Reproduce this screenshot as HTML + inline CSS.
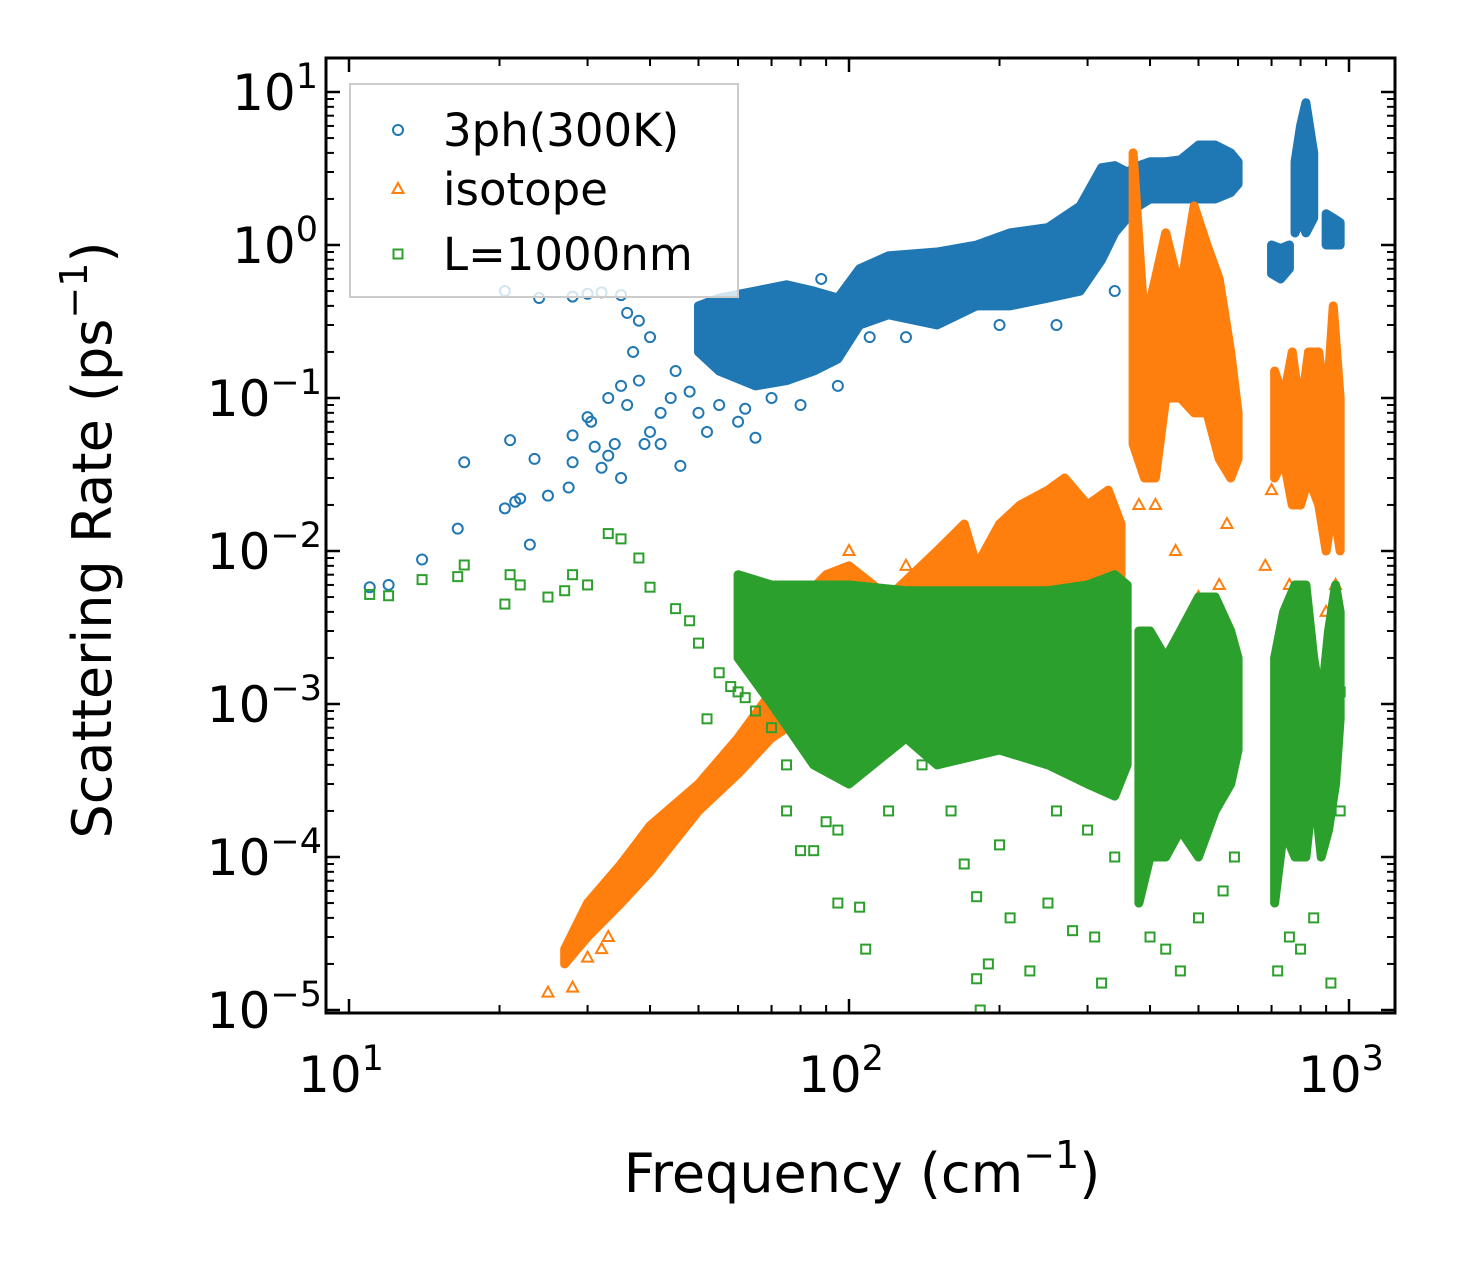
<!DOCTYPE html>
<html><head><meta charset="utf-8"><style>
html,body{margin:0;padding:0;background:#fff;}
svg text{font-family:"DejaVu Sans","Liberation Sans",sans-serif;fill:#000;}
</style></head><body>
<svg id="chart" width="1460" height="1265" viewBox="0 0 1460 1265" xmlns="http://www.w3.org/2000/svg">
<rect width="1460" height="1265" fill="#fff"/>
<defs><clipPath id="plotclip"><rect x="326" y="58" width="1069" height="955"/></clipPath></defs>
<g id="marks" clip-path="url(#plotclip)"></g>
<g id="axes"></g>
</svg>
<script>
// ---- data (frequency cm^-1, rate ps^-1) ----
const blueBandSeg=[0,0,0,0,0,0,0,0,0,0,0,0,0,0,0,0, 1,1,1,1,1,1,1,1,1, 2,2,2, 3,3,3,3, 4,4,4];
const blueBandX=[50,55,65,75,85,95,105,120,150,180,210,250,290,320,340,360, 360,380,400,430,460,500,540,580,600, 700,730,760, 780,800,820,850, 900,930,960];
const blueBandLo=[0.2,0.15,0.12,0.13,0.15,0.18,0.3,0.35,0.3,0.4,0.4,0.45,0.5,0.8,1.2,1.5, 1.5,1.8,2.0,2.0,2.0,2.0,2.0,2.2,2.5, 0.65,0.6,0.7, 1.2,1.5,1.2,1.5, 1.0,1.0,1.0];
const blueBandHi=[0.4,0.45,0.5,0.55,0.5,0.45,0.7,0.85,0.9,1.0,1.2,1.3,1.8,3.2,3.3,3.0, 3.0,3.3,3.5,3.5,3.6,4.5,4.5,4.0,3.5, 1.0,0.95,1.0, 3.5,6.0,8.5,4.0, 1.6,1.5,1.4];
const blueX=[11,12,14,16.5,17,20.5,21,21.5,22,23,23.5,25,27.5,28,28,30,30.5,31,32,33,34,35,36,38,40,42,44,46,20.5,24,28,30,32,35,36,38,40,45,50,55,60,65,70,80,88,35,39,42,48,52,62,33,37,95,110,130,200,260,340];
const blueY=[0.0058,0.006,0.0088,0.014,0.038,0.019,0.053,0.021,0.022,0.011,0.04,0.023,0.026,0.038,0.057,0.075,0.07,0.048,0.035,0.042,0.05,0.12,0.09,0.13,0.06,0.05,0.1,0.036,0.5,0.45,0.46,0.48,0.49,0.47,0.36,0.32,0.25,0.15,0.08,0.09,0.07,0.055,0.1,0.09,0.6,0.03,0.05,0.08,0.11,0.06,0.085,0.1,0.2,0.12,0.25,0.25,0.3,0.3,0.5];

const orangeBandSeg=[0,0,0,0,0,0,0,0, 1,1,1,1,1,1,1,1,1,1,1,1,1,1, 2,2,2,2,2,2,2,2,2,2, 3,3,3,3,3,3,3,3,3];
const orangeBandX=[27,30,35,40,50,60,70,80, 70,90,100,120,150,170,180,200,220,250,270,300,330,350, 370,390,410,430,460,490,520,550,580,600, 710,740,770,800,830,870,900,930,960];
const orangeBandLo=[2e-5,3e-5,5e-5,8e-5,2e-4,3.5e-4,6e-4,8e-4, 1e-3,1e-3,1e-3,1e-3,1e-3,1.5e-3,2e-3,2e-3,3e-3,4e-3,4e-3,5e-3,5e-3,5e-3, 0.05,0.03,0.03,0.1,0.1,0.08,0.08,0.04,0.03,0.04, 0.03,0.04,0.02,0.02,0.03,0.02,0.01,0.02,0.01];
const orangeBandHi=[2.5e-5,5e-5,9e-5,1.6e-4,3e-4,6e-4,1.2e-3,2e-3, 3e-3,7e-3,8e-3,5e-3,1e-2,1.5e-2,8e-3,1.5e-2,2e-2,2.5e-2,3e-2,2e-2,2.5e-2,1.5e-2, 4,0.3,0.6,1.2,0.5,1.8,1.0,0.6,0.2,0.08, 0.15,0.1,0.2,0.08,0.2,0.2,0.08,0.4,0.1];
const orangeX=[25,28,30,33,32,380,410,450,500,550,570,700,760,680,830,900,940,350,310,250,100,130,170];
const orangeY=[1.3e-5,1.4e-5,2.2e-5,3e-5,2.5e-5,0.02,0.02,0.01,0.005,0.006,0.015,0.025,0.006,0.008,0.003,0.004,0.006,0.005,0.003,0.005,0.01,0.008,0.008];

const greenBandSeg=[0,0,0,0,0,0,0,0,0,0,0, 1,1,1,1,1,1,1,1, 2,2,2,2,2,2,2,2,2];
const greenBandX=[60,70,85,100,130,150,200,250,300,340,360, 380,400,430,460,500,540,580,600, 710,740,780,820,850,880,910,940,960];
const greenBandLo=[2e-3,1e-3,4e-4,3e-4,6e-4,4e-4,5e-4,4e-4,3e-4,2.5e-4,4e-4, 5e-5,1e-4,1e-4,1.5e-4,1e-4,2e-4,3e-4,5e-4, 5e-5,1.5e-4,1e-4,1e-4,3e-4,1e-4,1.5e-4,3e-4,8e-4];
const greenBandHi=[7e-3,6e-3,6e-3,6e-3,5.5e-3,5.5e-3,5.5e-3,5.5e-3,6e-3,7e-3,6e-3, 3e-3,3e-3,2e-3,3e-3,5e-3,5e-3,3e-3,2e-3, 2e-3,4e-3,6e-3,6e-3,2e-3,1e-3,3e-3,6e-3,4e-3];
const greenX=[11,12,14,16.5,17,20.5,21,22,25,27,28,30,33,35,38,40,45,48,50,55,60,65,70,62,52,58,75,80,85,90,95,105,108,75,95,120,140,160,170,180,180,183,190,210,230,250,280,310,320,200,260,300,340,400,430,460,500,560,590,720,760,800,850,920,960,960];
const greenY=[0.0052,0.0051,0.0065,0.0068,0.0081,0.0045,0.007,0.006,0.005,0.0055,0.007,0.006,0.013,0.012,0.009,0.0058,0.0042,0.0035,0.0025,0.0016,0.0012,0.0009,0.0007,0.0011,0.0008,0.0013,0.0004,0.00011,0.00011,0.00017,5e-5,4.7e-5,2.5e-5,0.0002,0.00015,0.0002,0.0004,0.0002,9e-5,5.5e-5,1.6e-5,1e-5,2e-5,4e-5,1.8e-5,5e-5,3.3e-5,3e-5,1.5e-5,0.00012,0.0002,0.00015,0.0001,3e-5,2.5e-5,1.8e-5,4e-5,6e-5,0.0001,1.8e-5,3e-5,2.5e-5,4e-5,1.5e-5,0.0002,0.0012];

const xTickExp=[1,2,3];
const yTickExp=[1,0,-1,-2,-3,-4,-5];

// ---- axes ----
const X0=326,X1=1395,Y0=58,Y1=1013;
function sx(f){return 349+500*(Math.log10(f)-1);}
function sy(r){return 92+153*(1-Math.log10(r));}
const NS='http://www.w3.org/2000/svg';
function mk(tag,attrs,parent){const e=document.createElementNS(NS,tag);for(const k in attrs)e.setAttribute(k,attrs[k]);parent.appendChild(e);return e;}
const marks=document.getElementById('marks'),axes=document.getElementById('axes');
const C={blue:'#1f77b4',orange:'#ff7f0e',green:'#2ca02c'};

function drawBands(seg,xs,lo,hi,color,name){
  const ids=[...new Set(seg)];
  ids.forEach(id=>{
    const idx=seg.map((s,i)=>s===id?i:-1).filter(i=>i>=0);
    let pts=idx.map(i=>sx(xs[i])+','+sy(hi[i]));
    pts=pts.concat(idx.slice().reverse().map(i=>sx(xs[i])+','+sy(lo[i])));
    const p=mk('polygon',{points:pts.join(' '),fill:color,stroke:color,'stroke-width':9,'stroke-linejoin':'round'},marks);
    
    
  });
}
function marker(kind,x,y,color,parent){
  let e;
  if(kind==='circle')e=mk('circle',{cx:x,cy:y,r:5,fill:'none',stroke:color,'stroke-width':2},parent);
  else if(kind==='tri')e=mk('polygon',{points:`${x},${y-6} ${x-5.5},${y+4} ${x+5.5},${y+4}`,fill:'none',stroke:color,'stroke-width':2},parent);
  else e=mk('rect',{x:x-4.5,y:y-4.5,width:9,height:9,fill:'none',stroke:color,'stroke-width':2},parent);
  return e;
}
function drawPts(xs,ys,kind,color,name){
  xs.forEach((f,i)=>{const e=marker(kind,sx(f),sy(ys[i]),color,marks);
    
    });
}
drawBands(blueBandSeg,blueBandX,blueBandLo,blueBandHi,C.blue,'3ph');
drawPts(blueX,blueY,'circle',C.blue,'3ph');
drawBands(orangeBandSeg,orangeBandX,orangeBandLo,orangeBandHi,C.orange,'isotope');
drawPts(orangeX,orangeY,'tri',C.orange,'isotope');
drawBands(greenBandSeg,greenBandX,greenBandLo,greenBandHi,C.green,'boundary');
drawPts(greenX,greenY,'square',C.green,'boundary');

// frame
const fr=mk('rect',{x:X0,y:Y0,width:X1-X0,height:Y1-Y0,fill:'none',stroke:'#000','stroke-width':3},axes);

// x ticks
for(let d=0;d<=3;d++){for(let m=1;m<10;m++){const v=m*Math.pow(10,d);const x=sx(v);if(x<X0||x>X1)continue;
  const L=m===1?14:8,w=m===1?2.5:2;
  mk('line',{x1:x,y1:Y1,x2:x,y2:Y1-L,stroke:'#000','stroke-width':w},axes);
  mk('line',{x1:x,y1:Y0,x2:x,y2:Y0+L,stroke:'#000','stroke-width':w},axes);}}
xTickExp.forEach(e=>{const t=mk('text',{x:sx(Math.pow(10,e))-8,y:1092,'font-size':50,'text-anchor':'middle'},axes);
  t.innerHTML='10<tspan dy="-22" font-size="35">'+e+'</tspan>';
  });
// y ticks
for(let d=-6;d<=1;d++){for(let m=1;m<10;m++){const v=m*Math.pow(10,d);const y=sy(v);if(y<Y0||y>Y1)continue;
  const L=m===1?14:8,w=m===1?2.5:2;
  mk('line',{x1:X0,y1:y,x2:X0+L,y2:y,stroke:'#000','stroke-width':w},axes);
  mk('line',{x1:X1,y1:y,x2:X1-L,y2:y,stroke:'#000','stroke-width':w},axes);}}
yTickExp.forEach(e=>{const t=mk('text',{x:e<0?322:318,y:sy(Math.pow(10,e))+18,'font-size':50,'text-anchor':'end'},axes);
  t.innerHTML='10<tspan dy="-22" font-size="35">'+(e<0?'\u2212'+(-e):e)+'</tspan>';
  });
// titles
const xt=mk('text',{x:862,y:1192,'font-size':54,'text-anchor':'middle'},axes);
xt.innerHTML='Frequency (cm<tspan dy="-24" font-size="38">\u22121</tspan><tspan dy="24">)</tspan>';

const yt=mk('text',{x:0,y:0,'font-size':54,'text-anchor':'middle',transform:'translate(111,540) rotate(-90)'},axes);
yt.innerHTML='Scattering Rate (ps<tspan dy="-24" font-size="38">\u22121</tspan><tspan dy="24">)</tspan>';

// legend
const lg=mk('g',{},axes);

mk('rect',{x:350,y:84,width:388,height:213,fill:'#fff','fill-opacity':0.8,stroke:'#ccc','stroke-width':2},lg);
const entries=[['circle',C.blue,'3ph(300K)',130],['tri',C.orange,'isotope',189],['square',C.green,'L=1000nm',254]];
entries.forEach(en=>{const g=mk('g',{},lg);
  
  marker(en[0],398,en[3],en[1],g);
  const t=mk('text',{x:443,y:en[3]+16,'font-size':45},g);t.textContent=en[2];});
</script>
</body></html>
